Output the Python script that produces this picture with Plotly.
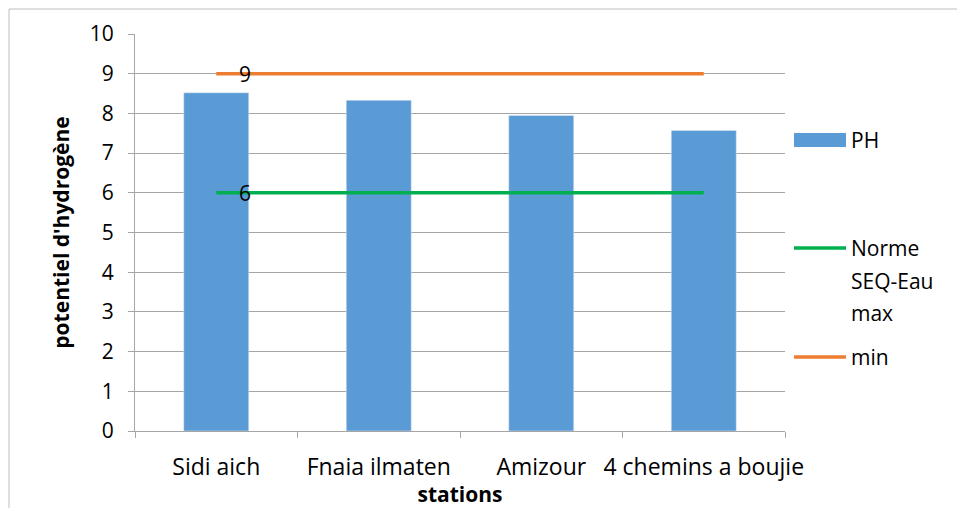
import plotly.graph_objects as go

# pH measured at each station, with the SEQ-Eau reference limits
stations = ["Sidi aich", "Fnaia ilmaten", "Amizour", "4 chemins a boujie"]
ph_values = [8.52, 8.33, 7.95, 7.57]
norme_max = [6, 6, 6, 6]
norme_min = [9, 9, 9, 9]

BLUE = "#5b9bd5"
GREEN = "#00b050"
ORANGE = "#ed7d31"
GRID = "#a6a6a6"
FONT = "Open Sans"
FS = 22

W, H = 957, 508
ML, MR, MT, MB = 135, 172, 34, 77
PW, PH_ = W - ML - MR, H - MT - MB


def px(x):
    return (x - ML) / PW


def py(y):
    return (H - MB - y) / PH_


fig = go.Figure()
fig.add_trace(go.Bar(x=stations, y=ph_values, name="PH", marker_color=BLUE,
                     width=0.4, showlegend=False))
fig.add_trace(go.Scatter(x=stations, y=norme_max, name="Norme SEQ-Eau max",
                         mode="lines", line=dict(color=GREEN, width=3.5),
                         showlegend=False))
fig.add_trace(go.Scatter(x=stations, y=norme_min, name="min",
                         mode="lines", line=dict(color=ORANGE, width=3.5),
                         showlegend=False))

annotations = []
# value labels on the first point of each reference line
for series in (norme_min, norme_max):
    annotations.append(dict(x=stations[0], y=series[0], xref="x", yref="y",
                            text=str(series[0]), showarrow=False,
                            xanchor="left", yanchor="middle", xshift=21,
                            font=dict(family=FONT, size=FS - 1, color="black")))

# legend drawn on the right
shapes = [
    dict(type="rect", xref="paper", yref="paper", x0=px(794), x1=px(846),
         y0=py(147), y1=py(133), fillcolor=BLUE, line=dict(width=0)),
    dict(type="line", xref="paper", yref="paper", x0=px(794), x1=px(846),
         y0=py(248), y1=py(248), line=dict(color=GREEN, width=3.5)),
    dict(type="line", xref="paper", yref="paper", x0=px(794), x1=px(846),
         y0=py(357), y1=py(357), line=dict(color=ORANGE, width=3.5)),
    # chart frame
    dict(type="rect", xref="paper", yref="paper", x0=px(9), x1=px(W + 20),
         y0=py(H + 20), y1=py(9), line=dict(color="#bfbfbf", width=1),
         fillcolor="rgba(0,0,0,0)", layer="below"),
]
legend_lines = [("PH", 140), ("Norme", 248), ("SEQ-Eau", 281), ("max", 313), ("min", 357)]
for txt, yy in legend_lines:
    annotations.append(dict(x=px(849), y=py(yy), xref="paper", yref="paper",
                            text=txt, showarrow=False, xanchor="left",
                            yanchor="middle",
                            font=dict(family=FONT, size=FS - 1, color="black")))

fig.update_layout(
    width=W, height=H,
    margin=dict(l=ML, r=MR, t=MT, b=MB, autoexpand=False),
    paper_bgcolor="white", plot_bgcolor="white",
    font=dict(family=FONT, size=FS, color="black"),
    shapes=shapes, annotations=annotations,
    bargap=0.6,
)
fig.update_yaxes(range=[0, 10], dtick=1, showgrid=True, gridcolor=GRID,
                 gridwidth=1, showline=True, linecolor=GRID, linewidth=1,
                 ticks="outside", ticklen=6, tickcolor=GRID,
                 ticklabelstandoff=10, zeroline=False, automargin=False,
                 tickfont=dict(family=FONT, size=FS - 1),
                 title=dict(text="<b>potentiel d'hydrogène</b>",
                            font=dict(family=FONT, size=FS - 1), standoff=14))
fig.update_xaxes(showline=True, linecolor=GRID, linewidth=1,
                 ticks="outside", ticklen=6, tickcolor=GRID,
                 tickson="boundaries", ticklabelstandoff=15, tickangle=0,
                 automargin=False, tickfont=dict(family=FONT, size=FS + 1),
                 title=dict(text="<b>stations</b>",
                            font=dict(family=FONT, size=FS - 1), standoff=0))

fig.write_html("out.html")
